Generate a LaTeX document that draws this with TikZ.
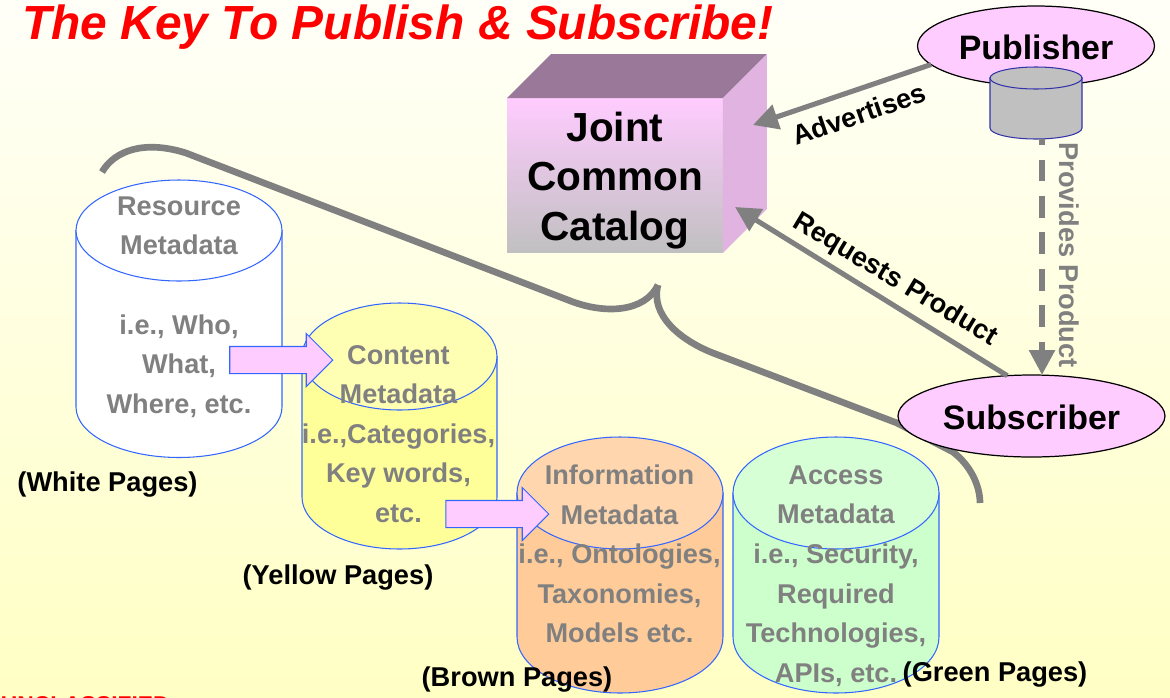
\documentclass[tikz,border=0pt]{standalone}
\usepackage{fontspec}
\setmainfont{Liberation Sans}
\usepackage{tikz}
\usetikzlibrary{calc, shapes.geometric, shapes.arrows, arrows.meta}

\definecolor{pagegrey}{HTML}{808080}
\definecolor{pagepink}{HTML}{FFCCFF}
\definecolor{pageblue}{HTML}{3366FF}
\definecolor{storeblue}{HTML}{3333AA}
\definecolor{storegrey}{HTML}{C0C0C0}

\tikzset{
	metacyl/.style={draw=pageblue, line width=.6pt},
	metatext/.style={text=pagegrey, align=center, font=\fontsize{15.45pt}{22.5pt}\selectfont\bfseries},
	pagetag/.style={font=\fontsize{15.5pt}{18pt}\selectfont\bfseries},
	actor/.style={ellipse, draw=black, line width=.7pt, fill=pagepink, inner sep=0pt, outer sep=0pt, font=\fontsize{19.3pt}{22pt}\selectfont\bfseries},
	flowarrow/.style={single arrow, draw=pageblue, line width=.6pt, fill=pagepink, inner xsep=0pt, inner ysep=.26cm, outer sep=0pt, minimum height=2.06cm, single arrow head extend=.26cm, single arrow head indent=0pt},
	linkarrow/.style={pagegrey, line width=2.9pt, -{Triangle[length=.5cm, width=.5cm]}},
	linklabel/.style={font=\fontsize{15.5pt}{18pt}\selectfont\bfseries}
}

\begin{document}
\begin{tikzpicture}[x=.02cm, y=-.02cm]
	\useasboundingbox (0, 0) rectangle (1170, 697);
	\shade [top color={rgb,255:red,255;green,255;blue,248}, bottom color={rgb,255:red,255;green,255;blue,196}] (0, 0) rectangle (1170, 697);

	\node (Title) at (22, 39) [anchor=base west, inner sep=0pt, text=red, font=\fontsize{27.25pt}{30pt}\selectfont\bfseries\itshape] {The Key To Publish \& Subscribe!};
	\node (Marking) at (170, 712) [anchor=base east, inner sep=0pt, text=red, font=\fontsize{13pt}{15pt}\selectfont\bfseries] {UNCLASSIFIED};

	\draw [pagegrey, line width=3.8pt] (102, 172) .. controls (115, 150) and (145, 140) .. (186, 153) -- (568, 300) .. controls (605, 315) and (645, 312) .. (658, 285);
	\draw [pagegrey, line width=3.8pt] (658, 285) .. controls (650, 315) and (680, 340) .. (713, 353) -- (897, 423) -- (953, 452) .. controls (970, 465) and (980, 485) .. (980, 503);

	\node (Catalog) at (615, 175.5) [minimum width=4.32cm, minimum height=3.1cm, inner sep=0pt, outer sep=0pt, top color=pagepink, bottom color=storegrey] {};
	\fill [fill={rgb,255:red,153;green,120;blue,153}] (Catalog.north west) -- ($(Catalog.north west) + (44, -44)$) -- ($(Catalog.north east) + (44, -44)$) -- (Catalog.north east) -- cycle;
	\fill [fill={rgb,255:red,224;green,179;blue,224}] (Catalog.north east) -- ($(Catalog.north east) + (44, -44)$) -- ($(Catalog.south east) + (44, -44)$) -- (Catalog.south east) -- cycle;
	\node (CatalogText) at (615, 180.5) [align=center, font=\fontsize{23.1pt}{28.4pt}\selectfont\bfseries] {Joint\\Common\\Catalog};

	\draw [metacyl, fill=white] (76, 230.5) -- (76, 407) arc [start angle=180, end angle=0, x radius=103, y radius=50.5] -- (282, 230.5) -- cycle;
	\draw [metacyl, fill=white] (179, 230.5) ellipse [x radius=103, y radius=50.5];

	\draw [metacyl, fill={rgb,255:red,255;green,255;blue,153}] (302, 356.5) -- (302, 497) arc [start angle=180, end angle=0, x radius=97.5, y radius=52] -- (497, 356.5) -- cycle;
	\draw [metacyl, fill={rgb,255:red,255;green,255;blue,179}] (399.5, 356.5) ellipse [x radius=97.5, y radius=53.5];

	\draw [metacyl, fill={rgb,255:red,255;green,204;blue,153}] (517, 493) -- (517, 637) arc [start angle=180, end angle=0, x radius=103, y radius=56] -- (723, 493) -- cycle;
	\draw [metacyl, fill={rgb,255:red,255;green,214;blue,173}] (620, 493) ellipse [x radius=103, y radius=56];

	\draw [metacyl, fill={rgb,255:red,204;green,255;blue,204}] (733, 493) -- (733, 637) arc [start angle=180, end angle=0, x radius=103, y radius=56] -- (939, 493) -- cycle;
	\draw [metacyl, fill={rgb,255:red,214;green,255;blue,214}] (836, 493) ellipse [x radius=103, y radius=56];

	\node (WhiteFlow) at (274.5, 360) [flowarrow] {};
	\node (YellowFlow) at (490.5, 514) [flowarrow] {};

	\node (WhiteText) at (179, 307) [metatext] {Resource\\Metadata\\ \\i.e., Who,\\What,\\Where, etc.};
	\node (YellowText) at (398.5, 434) [metatext] {Content\\Metadata\\i.e.,Categories,\\Key words,\\etc.};
	\node (BrownText) at (619.5, 554) [metatext] {Information\\Metadata\\i.e., Ontologies,\\Taxonomies,\\Models etc.};
	\node (GreenText) at (836, 576) [metatext] {Access\\Metadata\\i.e., Security,\\Required\\Technologies,\\APIs, etc.};

	\node (WhiteTag) at (107.5, 485) [pagetag] {(White Pages)};
	\node (YellowTag) at (338, 578) [pagetag] {(Yellow Pages)};
	\node (BrownTag) at (517, 680) [pagetag] {(Brown Pages)};
	\node (GreenTag) at (995, 675) [pagetag] {(Green Pages)};

	\node (Publisher) at (1036, 46) [actor, minimum width=4.74cm, minimum height=1.6cm, text height=15.5pt] {Publisher};
	\node (Subscriber) at (1031.5, 416) [actor, minimum width=5.34cm, minimum height=1.64cm, text height=15pt] {Subscriber};

	\draw [draw=storeblue, line width=.6pt, fill=storegrey] (990, 78) -- (990, 128) arc [start angle=180, end angle=0, x radius=46, y radius=11] -- (1082, 78) -- cycle;
	\draw [draw=storeblue, line width=.6pt, fill=storegrey] (1036, 78) ellipse [x radius=46, y radius=11];

	\coordinate (AdTip) at (753, 125);
	\coordinate (RequestTip) at (735, 207);
	\coordinate (StoreBase) at (1042, 139);

	\draw [linkarrow] (Publisher.190.5) -- (AdTip);
	\draw [linkarrow] (Subscriber.121) -- (RequestTip);
	\draw [linkarrow, line width=3.2pt, dash pattern=on .44cm off .29cm, dash phase=.32cm] (StoreBase) -- (StoreBase |- Subscriber.north);

	\node (AdLabel) at (859, 114) [linklabel, rotate=19] {Advertises};
	\node (RequestLabel) at (895, 280) [linklabel, rotate=-31] {Requests Product};
	\node (ProvideLabel) at (1069, 255) [linklabel, rotate=-90, text=pagegrey] {Provides Product};
\end{tikzpicture}
\end{document}
